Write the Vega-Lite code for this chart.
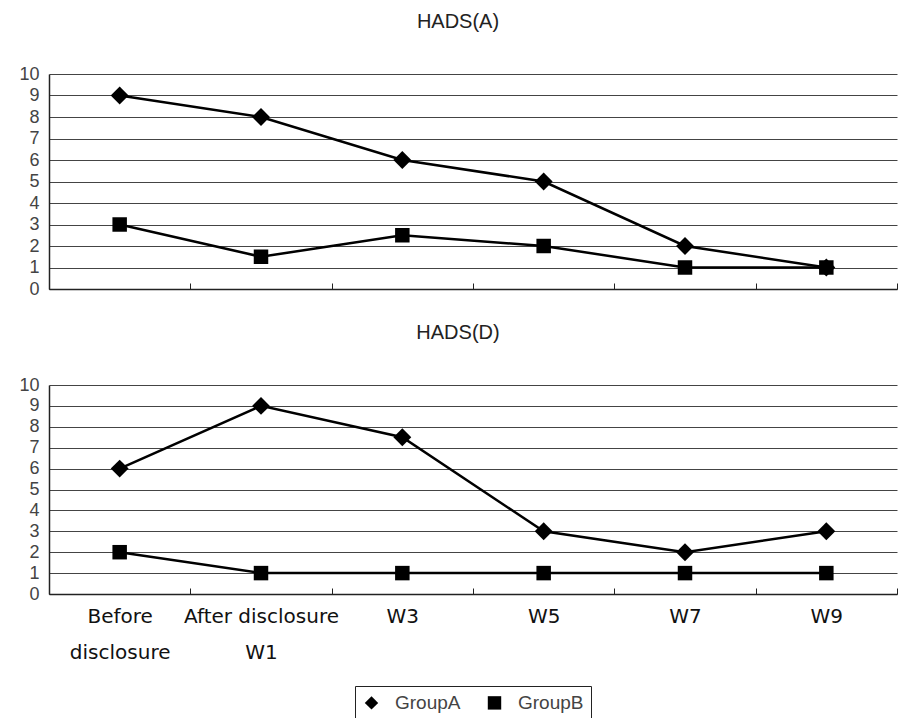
{
  "$schema": "https://vega.github.io/schema/vega-lite/v6.json",
  "padding": {"left": 18, "top": 12, "right": 0, "bottom": 0},
  "background": "white",
  "data": {"values": [
    {"panel": "A", "time": "Before disclosure", "group": "GroupA", "value": 9},
    {"panel": "A", "time": "After disclosure W1", "group": "GroupA", "value": 8},
    {"panel": "A", "time": "W3", "group": "GroupA", "value": 6},
    {"panel": "A", "time": "W5", "group": "GroupA", "value": 5},
    {"panel": "A", "time": "W7", "group": "GroupA", "value": 2},
    {"panel": "A", "time": "W9", "group": "GroupA", "value": 1},
    {"panel": "A", "time": "Before disclosure", "group": "GroupB", "value": 3},
    {"panel": "A", "time": "After disclosure W1", "group": "GroupB", "value": 1.5},
    {"panel": "A", "time": "W3", "group": "GroupB", "value": 2.5},
    {"panel": "A", "time": "W5", "group": "GroupB", "value": 2},
    {"panel": "A", "time": "W7", "group": "GroupB", "value": 1},
    {"panel": "A", "time": "W9", "group": "GroupB", "value": 1},
    {"panel": "D", "time": "Before disclosure", "group": "GroupA", "value": 6},
    {"panel": "D", "time": "After disclosure W1", "group": "GroupA", "value": 9},
    {"panel": "D", "time": "W3", "group": "GroupA", "value": 7.5},
    {"panel": "D", "time": "W5", "group": "GroupA", "value": 3},
    {"panel": "D", "time": "W7", "group": "GroupA", "value": 2},
    {"panel": "D", "time": "W9", "group": "GroupA", "value": 3},
    {"panel": "D", "time": "Before disclosure", "group": "GroupB", "value": 2},
    {"panel": "D", "time": "After disclosure W1", "group": "GroupB", "value": 1},
    {"panel": "D", "time": "W3", "group": "GroupB", "value": 1},
    {"panel": "D", "time": "W5", "group": "GroupB", "value": 1},
    {"panel": "D", "time": "W7", "group": "GroupB", "value": 1},
    {"panel": "D", "time": "W9", "group": "GroupB", "value": 1}
  ]},
  "spacing": 25,
  "vconcat": [
    {
      "title": {"text": "HADS(A)", "anchor": "middle", "frame": "group", "dx": -15, "offset": 33},
      "width": 848,
      "height": 215,
      "transform": [{"filter": "datum.panel == 'A'"}],
      "encoding": {
        "x": {"field": "time", "type": "ordinal",
          "sort": ["Before disclosure", "After disclosure W1", "W3", "W5", "W7", "W9"],
          "scale": {"type": "band", "paddingInner": 0, "paddingOuter": 0},
          "axis": {"title": null, "labels": false, "tickSize": -6, "tickBand": "extent", "domainColor": "#222", "domainWidth": 1.5, "tickColor": "#222"}},
        "y": {"field": "value", "type": "quantitative",
          "scale": {"domain": [0, 10], "nice": false},
          "axis": {"title": null, "values": [0, 1, 2, 3, 4, 5, 6, 7, 8, 9, 10], "grid": true, "ticks": false, "labelFont": "Liberation Sans", "labelFontSize": 18, "labelColor": "#444", "labelPadding": 10, "gridColor": "#444", "gridWidth": 1, "domainColor": "#222", "domainWidth": 1.5}}
      },
      "layer": [
        {"mark": {"type": "line", "color": "black", "strokeWidth": 2.5}, "encoding": {"detail": {"field": "group"}}},
        {"transform": [{"filter": "datum.group == 'GroupA'"}],
          "mark": {"type": "point", "filled": true, "color": "black", "opacity": 1, "size": 320},
          "encoding": {"shape": {"field": "group", "type": "nominal", "scale": {"domain": ["GroupA", "GroupB"], "range": ["diamond", "square"]}}}},
        {"transform": [{"filter": "datum.group == 'GroupB'"}],
          "mark": {"type": "point", "filled": true, "color": "black", "opacity": 1, "size": 210},
          "encoding": {"shape": {"field": "group", "type": "nominal", "scale": {"domain": ["GroupA", "GroupB"], "range": ["diamond", "square"]}}}}
      ]
    },
    {
      "title": {"text": "HADS(D)", "anchor": "middle", "frame": "group", "dx": -15, "offset": 33},
      "width": 848,
      "height": 209,
      "transform": [{"filter": "datum.panel == 'D'"}],
      "encoding": {
        "x": {"field": "time", "type": "ordinal",
          "sort": ["Before disclosure", "After disclosure W1", "W3", "W5", "W7", "W9"],
          "scale": {"type": "band", "paddingInner": 0, "paddingOuter": 0},
          "axis": {"title": null, "labelAngle": 0, "tickSize": -6, "tickBand": "extent", "domainColor": "#222", "domainWidth": 1.5, "tickColor": "#222",
            "labelFont": "DejaVu Sans", "labelFontSize": 20, "labelColor": "#111", "labelBaseline": "middle", "labelLineHeight": 36, "labelPadding": 28, "labelOverlap": false, "labelBound": false, "labelLimit": 0,
            "labelExpr": "datum.label == 'Before disclosure' ? ['Before', 'disclosure'] : datum.label == 'After disclosure W1' ? ['After disclosure', 'W1'] : datum.label"}},
        "y": {"field": "value", "type": "quantitative",
          "scale": {"domain": [0, 10], "nice": false},
          "axis": {"title": null, "values": [0, 1, 2, 3, 4, 5, 6, 7, 8, 9, 10], "grid": true, "ticks": false, "labelFont": "Liberation Sans", "labelFontSize": 18, "labelColor": "#444", "labelPadding": 10, "gridColor": "#444", "gridWidth": 1, "domainColor": "#222", "domainWidth": 1.5}}
      },
      "layer": [
        {"mark": {"type": "line", "color": "black", "strokeWidth": 2.5}, "encoding": {"detail": {"field": "group"}}},
        {"transform": [{"filter": "datum.group == 'GroupA'"}],
          "mark": {"type": "point", "filled": true, "color": "black", "opacity": 1, "size": 320},
          "encoding": {"shape": {"field": "group", "type": "nominal", "scale": {"domain": ["GroupA", "GroupB"], "range": ["diamond", "square"]}}}},
        {"transform": [{"filter": "datum.group == 'GroupB'"}],
          "mark": {"type": "point", "filled": true, "color": "black", "opacity": 1, "size": 210},
          "encoding": {"shape": {"field": "group", "type": "nominal", "scale": {"domain": ["GroupA", "GroupB"], "range": ["diamond", "square"]}}}}
      ]
    }
  ],
  "config": {
    "view": {"stroke": null},
    "title": {"font": "Liberation Sans", "fontSize": 20, "fontWeight": "normal", "color": "#222"},
    "legend": {
      "title": null,
      "orient": "none",
      "legendX": 306,
      "legendY": 612,
      "direction": "horizontal",
      "strokeColor": "#222",
      "padding": 7,
      "symbolSize": 180,
      "symbolStrokeWidth": 2,
      "symbolStrokeColor": "black",
      "symbolFillColor": "black",
      "labelFont": "Liberation Sans",
      "labelFontSize": 19,
      "labelColor": "#444",
      "labelOffset": 14,
      "columnPadding": 22,
      "symbolOpacity": 1
    }
  }
}
